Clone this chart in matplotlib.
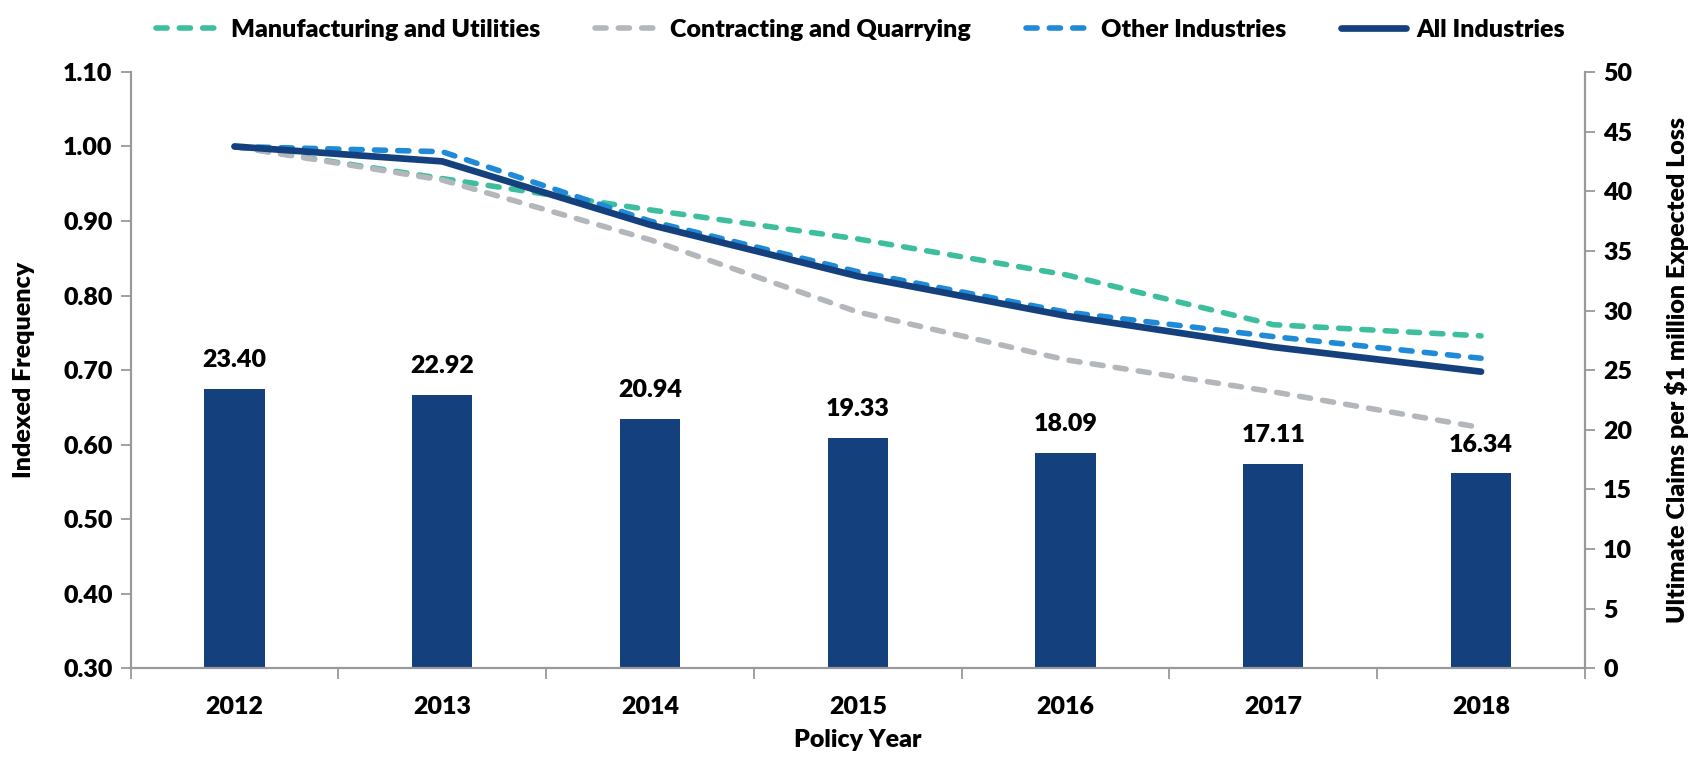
import matplotlib
matplotlib.use("Agg")
from matplotlib import pyplot as plt
import numpy as np

years = ['2012', '2013', '2014', '2015', '2016', '2017', '2018']
claims = [23.40, 22.92, 20.94, 19.33, 18.09, 17.11, 16.34]

manufacturing = [1.00, 0.957, 0.915, 0.876, 0.828, 0.761, 0.746]
contracting = [1.00, 0.955, 0.875, 0.778, 0.714, 0.671, 0.623]
other = [1.00, 0.993, 0.900, 0.832, 0.778, 0.745, 0.716]
all_ind = [1.00, 0.980, 0.895, 0.826, 0.773, 0.731, 0.698]

navy = '#15407E'
green = '#3DBF9F'
grey = '#B3B7BC'
blue = '#1F8AD8'
axis_grey = '#999999'
wt = 'heavy'

plt.rcParams['font.family'] = ['Lato', 'DejaVu Sans']
plt.rcParams['font.weight'] = wt

fig = plt.figure(figsize=(17.07, 7.57), dpi=100)
ax = fig.add_axes([0.0765, 0.117, 0.852, 0.788])
ax2 = ax.twinx()

x = np.arange(len(years))

# bars on the right axis
ax2.bar(x, claims, width=0.29, color=navy, zorder=1)
for xi, v in zip(x, claims):
    ax2.text(xi, v + 1.5, f'{v:.2f}', ha='center', va='bottom', fontsize=18,
             fontweight=wt)
ax2.set_ylim(0, 50)
ax2.set_yticks(range(0, 51, 5))

# lines on the left axis, drawn above the bars
ax.set_zorder(ax2.get_zorder() + 1)
ax.patch.set_visible(False)
dash_kw = dict(linewidth=4.0, dashes=(2.0, 2.2), dash_capstyle='round')
ax.plot(x, manufacturing, color=green, label='Manufacturing and Utilities', **dash_kw)
ax.plot(x, contracting, color=grey, label='Contracting and Quarrying', **dash_kw)
ax.plot(x, other, color=blue, label='Other Industries', **dash_kw)
ax.plot(x, all_ind, color=navy, linewidth=4.8, solid_capstyle='round',
        label='All Industries')

yt = np.arange(0.30, 1.101, 0.10)
ax.set_ylim(0.30, 1.10)
ax.set_yticks(yt)
ax.set_yticklabels([f'{t:.2f}' for t in yt])
ax.set_xlim(-0.5, len(years) - 0.5)
ax.set_xticks(x)
ax.set_xticklabels(years)
ax.set_xticks(np.arange(-0.5, len(years)), minor=True)
ax.tick_params(axis='x', which='major', length=0, pad=20, labelsize=18)
ax.tick_params(axis='x', which='minor', length=8, width=1.3, color=axis_grey,
               direction='out')
ax.tick_params(axis='y', length=7, width=1.3, color=axis_grey, labelsize=18, pad=6)
ax2.tick_params(axis='y', length=7, width=1.3, color=axis_grey, labelsize=18, pad=6)

for a in (ax, ax2):
    a.spines['top'].set_visible(False)
    for s in ('left', 'right', 'bottom'):
        a.spines[s].set_color(axis_grey)
        a.spines[s].set_linewidth(1.5)

ax.set_xlabel('Policy Year', fontsize=18, fontweight=wt, labelpad=8)
ax.set_ylabel('Indexed Frequency', fontsize=18, fontweight=wt, labelpad=20)
ax2.set_ylabel('Ultimate Claims per $1 million Expected Loss', fontsize=18,
               fontweight=wt, labelpad=24)

fig.legend(loc='upper center', bbox_to_anchor=(0.504, 1.005), ncol=4, frameon=False,
           fontsize=18, handlelength=2.6, columnspacing=2.2, handletextpad=0.4)

fig.savefig('out.png', dpi=100)
